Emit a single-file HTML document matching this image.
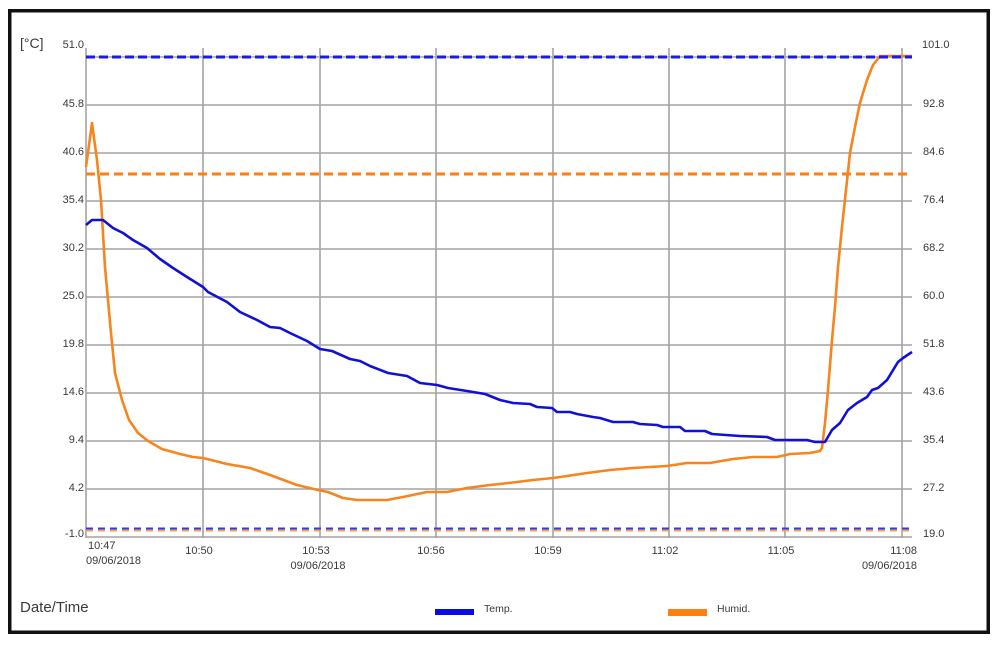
<!DOCTYPE html>
<html>
<head>
<meta charset="utf-8">
<style>
  html, body { margin: 0; padding: 0; background: #ffffff; }
  body { width: 1000px; height: 645px; position: relative; overflow: hidden; }
  svg { position: absolute; left: 0; top: 0; }
  text { font-family: "Liberation Sans", Arial, sans-serif; fill: #3a3a3a; }
</style>
</head>
<body>
<svg width="1000" height="645" viewBox="0 0 1000 645" xmlns="http://www.w3.org/2000/svg">
  <rect x="0" y="0" width="1000" height="645" fill="#ffffff"/>
  <!-- frame -->
  <rect x="9.75" y="10.75" width="978.5" height="621.5" fill="none" stroke="#111" stroke-width="3.5"/>

  <!-- grid horizontal -->
  <g stroke="#a3a3a3" stroke-width="1.6" fill="none">
    <line x1="86" y1="57" x2="912" y2="57"/>
    <line x1="86" y1="105" x2="912" y2="105"/>
    <line x1="86" y1="153" x2="912" y2="153"/>
    <line x1="86" y1="201" x2="912" y2="201"/>
    <line x1="86" y1="249" x2="912" y2="249"/>
    <line x1="86" y1="297" x2="912" y2="297"/>
    <line x1="86" y1="345" x2="912" y2="345"/>
    <line x1="86" y1="393" x2="912" y2="393"/>
    <line x1="86" y1="441" x2="912" y2="441"/>
    <line x1="86" y1="489" x2="912" y2="489"/>
    <line x1="86" y1="537" x2="912" y2="537"/>
  </g>
  <!-- grid vertical -->
  <g stroke="#a3a3a3" stroke-width="1.6" fill="none">
    <line x1="86" y1="48" x2="86" y2="538"/>
    <line x1="203" y1="48" x2="203" y2="538"/>
    <line x1="320" y1="48" x2="320" y2="538"/>
    <line x1="436" y1="48" x2="436" y2="538"/>
    <line x1="553" y1="48" x2="553" y2="538"/>
    <line x1="669" y1="48" x2="669" y2="538"/>
    <line x1="785" y1="48" x2="785" y2="538"/>
    <line x1="902" y1="48" x2="902" y2="538"/>
  </g>

  <!-- alarm lines -->
  <line x1="86" y1="530.5" x2="912" y2="530.5" stroke="#f7a050" stroke-width="2" stroke-dasharray="7 5"/>
  <line x1="86" y1="528.5" x2="912" y2="528.5" stroke="#2a3cf0" stroke-width="2" stroke-dasharray="7 5"/>
  <line x1="86" y1="174" x2="912" y2="174" stroke="#ff7f10" stroke-width="3" stroke-dasharray="9 5"/>

  <!-- humidity series -->
  <polyline fill="none" stroke="#f7841c" stroke-width="2.6" stroke-linejoin="round" points="
    86,167 92,123 97,160 101,200 105,267 108,300 111,333 115,373 122,400 129,420 138,433 148,441 162,449 180,454 193,457 203,458
    227,464 250,468 270,475 297,485 318,490 328,492 343,498 357,500 387,500 403,497 427,492 447,492 467,488 490,485
    500,484 517,482 533,480 553,478 567,476 587,473 610,470 633,468 667,466 687,463 710,463 733,459 753,457 777,457 790,454
    810,453 820,451 822,448 825,423 828,390 832,340 835,307 838,267 842,227 846,190 850,153 855,127 860,103 867,80 873,65 880,56 912,56"/>

  <!-- temperature series -->
  <polyline fill="none" stroke="#1010d8" stroke-width="2.6" stroke-linejoin="round" points="
    86,225 92,220 103,220 113,228 123,233 133,240 147,248 160,259 173,268 187,277 203,287 208,292 227,302 240,312 257,320 270,327 280,328
    290,333 307,341 320,349 332,351 350,359 360,361 370,366 388,373 407,376 420,383 437,385 448,388 467,391 485,394
    500,400 513,403 530,404 537,407 552,408 557,412 570,412 577,414 593,417 600,418 613,422 633,422 640,424 657,425 663,427
    680,427 685,431 705,431 712,434 740,436 767,437 775,440 807,440 815,442 825,442 832,430 840,423 848,410 857,403 867,397
    872,390 878,388 887,380 898,362 903,358 912,352"/>

  <!-- top blue alarm line (over the series) -->
  <line x1="86" y1="57" x2="912" y2="57" stroke="#1a1aeb" stroke-width="3" stroke-dasharray="9 4"/>

  <!-- left axis labels -->
  <g font-size="11" text-anchor="end">
    <text x="84" y="48">51.0</text>
    <text x="84" y="107">45.8</text>
    <text x="84" y="155">40.6</text>
    <text x="84" y="203">35.4</text>
    <text x="84" y="251">30.2</text>
    <text x="84" y="299">25.0</text>
    <text x="84" y="347">19.8</text>
    <text x="84" y="395">14.6</text>
    <text x="84" y="443">9.4</text>
    <text x="84" y="491">4.2</text>
    <text x="84" y="537">-1.0</text>
  </g>
  <!-- right axis labels -->
  <g font-size="11" text-anchor="start">
    <text x="922" y="48">101.0</text>
    <text x="923" y="107">92.8</text>
    <text x="923" y="155">84.6</text>
    <text x="923" y="203">76.4</text>
    <text x="923" y="251">68.2</text>
    <text x="923" y="299">60.0</text>
    <text x="923" y="347">51.8</text>
    <text x="923" y="395">43.6</text>
    <text x="923" y="443">35.4</text>
    <text x="923" y="491">27.2</text>
    <text x="923" y="537">19.0</text>
  </g>

  <text x="20" y="48" font-size="14">[°C]</text>

  <!-- x axis labels -->
  <g font-size="11">
    <text x="88" y="549">10:47</text>
    <text x="86" y="564">09/06/2018</text>
    <text x="199" y="554" text-anchor="middle">10:50</text>
    <text x="316" y="554" text-anchor="middle">10:53</text>
    <text x="318" y="569" text-anchor="middle">09/06/2018</text>
    <text x="431" y="554" text-anchor="middle">10:56</text>
    <text x="548" y="554" text-anchor="middle">10:59</text>
    <text x="665" y="554" text-anchor="middle">11:02</text>
    <text x="781" y="554" text-anchor="middle">11:05</text>
    <text x="917" y="554" text-anchor="end">11:08</text>
    <text x="917" y="569" text-anchor="end">09/06/2018</text>
  </g>

  <text x="20" y="612" font-size="15">Date/Time</text>

  <!-- legend -->
  <rect x="435" y="609" width="39" height="6" fill="#0a0ae6"/>
  <text x="484" y="612" font-size="10.5">Temp.</text>
  <rect x="668" y="609" width="39" height="7" fill="#ff7f10"/>
  <text x="717" y="612" font-size="10.5">Humid.</text>
</svg>
</body>
</html>
